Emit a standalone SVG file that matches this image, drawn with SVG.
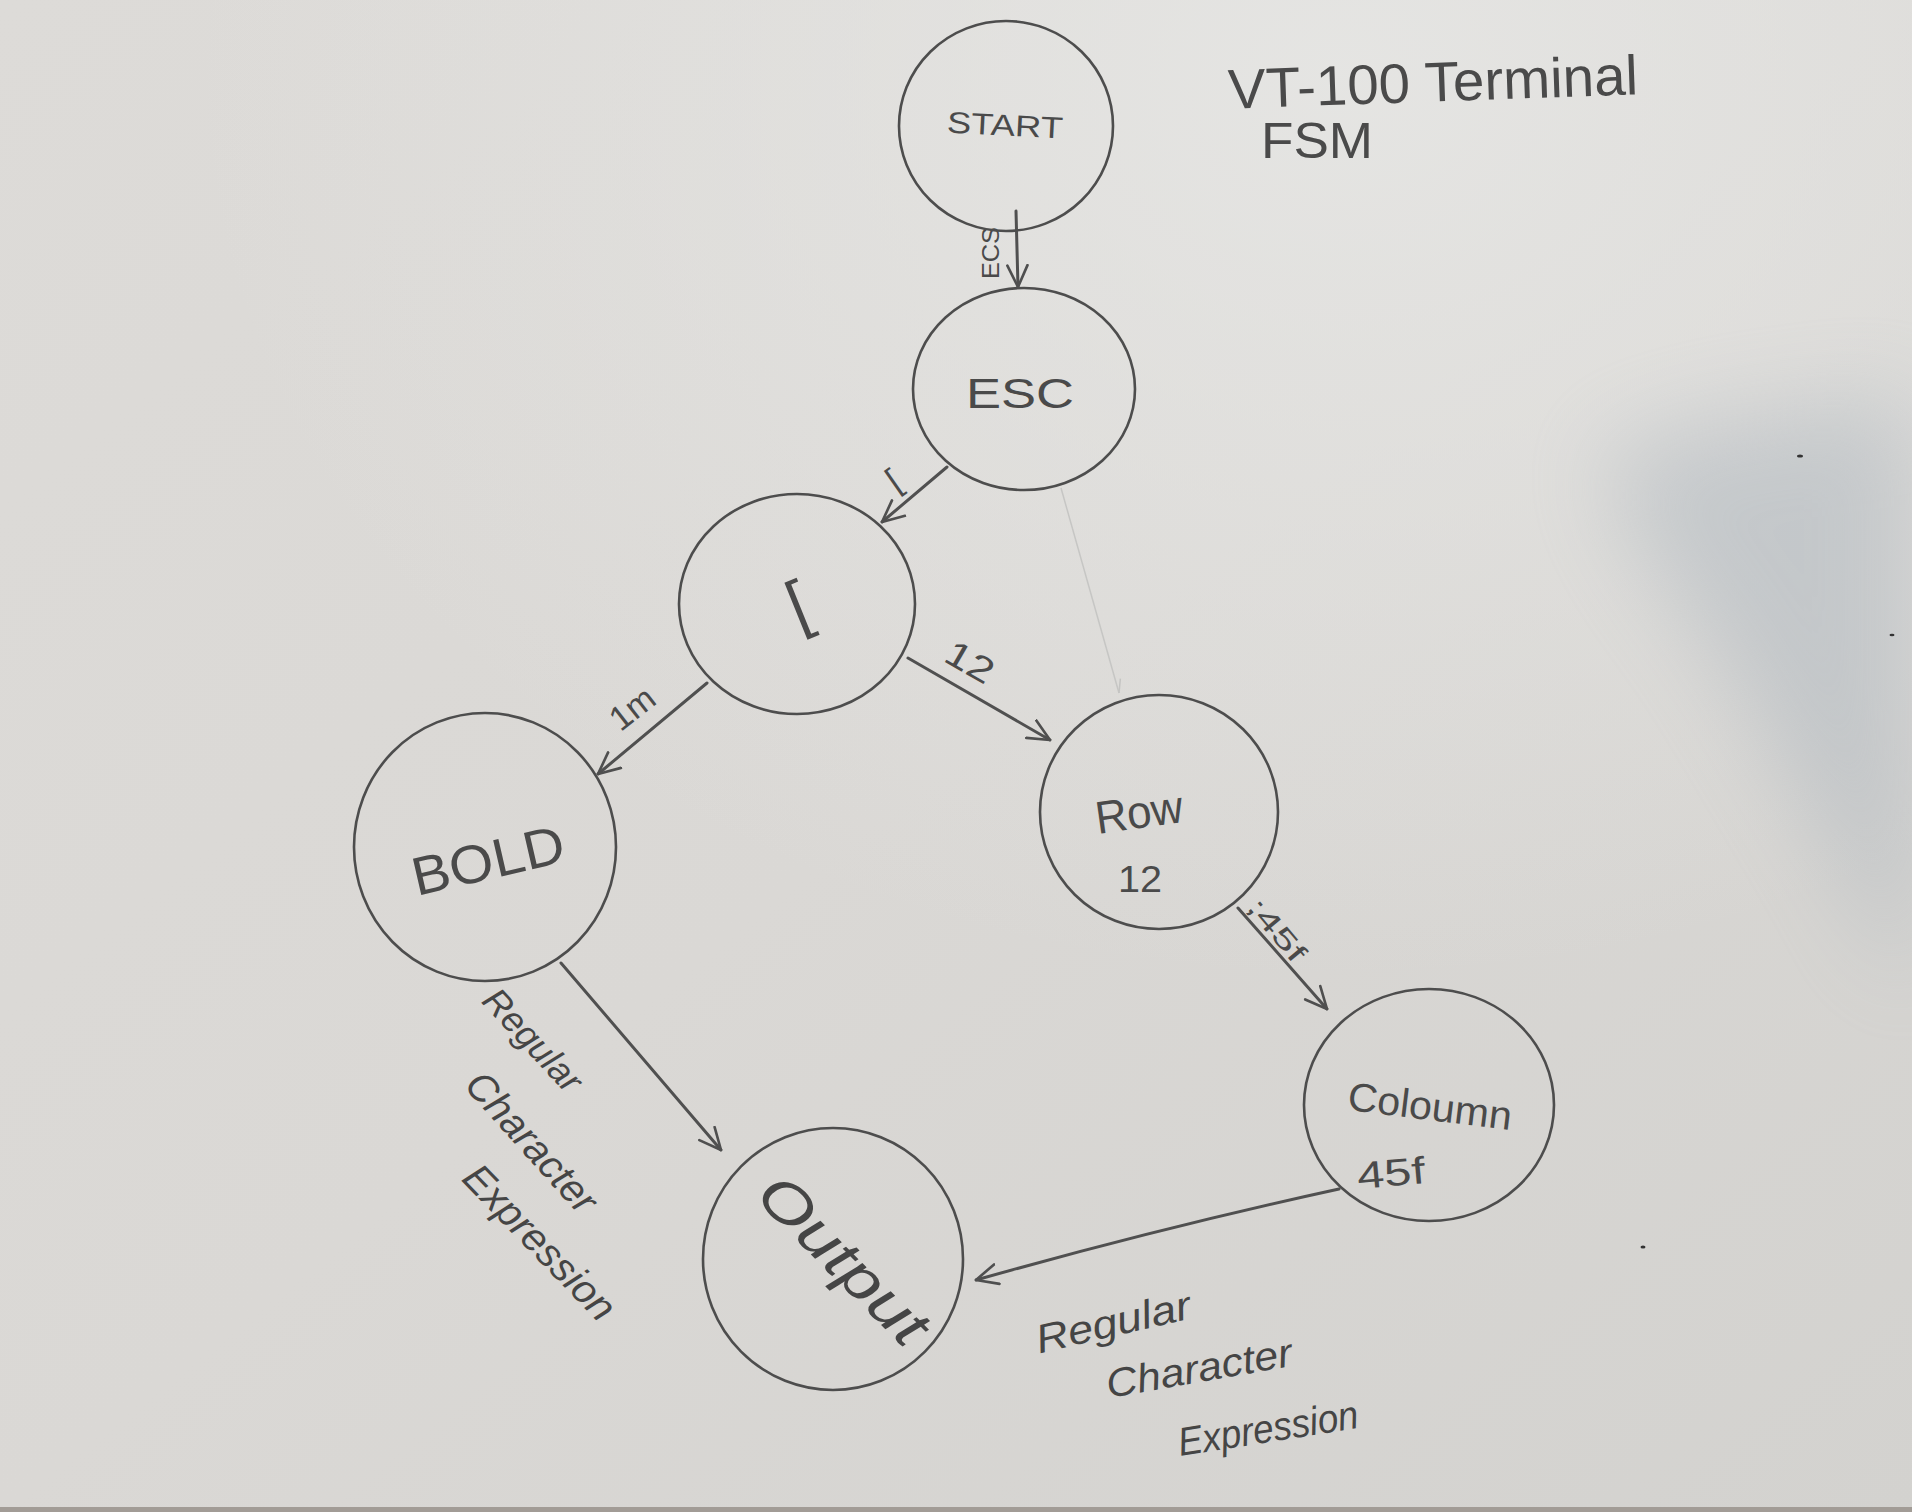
<svg xmlns="http://www.w3.org/2000/svg" width="1912" height="1512" viewBox="0 0 1912 1512">
<defs>
<linearGradient id="paper" x1="0" y1="0" x2="1" y2="1">
<stop offset="0" stop-color="#dddbd8"/>
<stop offset="0.5" stop-color="#dad8d5"/>
<stop offset="1" stop-color="#d3d2cf"/>
</linearGradient>
<radialGradient id="light" cx="0.7" cy="0.05" r="0.6">
<stop offset="0" stop-color="#e6e6e4" stop-opacity="0.9"/>
<stop offset="1" stop-color="#e6e6e4" stop-opacity="0"/>
</radialGradient>
<filter id="blur" x="-40%" y="-40%" width="180%" height="180%"><feGaussianBlur stdDeviation="45"/></filter>
<marker id="arrow" viewBox="0 0 10 10" refX="9.5" refY="5" markerWidth="8" markerHeight="8" orient="auto" markerUnits="strokeWidth">
<path d="M0.5,0.8 L9.5,5 L0.5,9.2" fill="none" stroke="#4f4f4f" stroke-width="1.1" stroke-linecap="round" stroke-linejoin="round"/>
</marker>
<marker id="arrowFaint" viewBox="0 0 10 10" refX="9.5" refY="5" markerWidth="10" markerHeight="10" orient="auto" markerUnits="strokeWidth">
<path d="M0.5,1.5 L9.5,5" fill="none" stroke="#c4c4c2" stroke-width="1"/>
</marker>
<style>
.node{fill:none;stroke:#4d4d4d;stroke-width:2.6}
.edge{fill:none;stroke:#505050;stroke-width:3;stroke-linecap:round;marker-end:url(#arrow)}
.faint{fill:none;stroke:#c6c6c4;stroke-width:1.5;marker-end:url(#arrowFaint)}
.t{font-family:"Liberation Sans","DejaVu Sans",sans-serif;fill:#4a4a4a;text-anchor:middle;dominant-baseline:central}
.s{font-family:"Liberation Sans","DejaVu Sans",sans-serif;font-style:italic;fill:#454545;text-anchor:middle;dominant-baseline:central}
</style>
</defs>

<rect x="0" y="0" width="1912" height="1512" fill="url(#paper)"/>
<rect x="0" y="0" width="1912" height="1512" fill="url(#light)"/>
<polygon points="1600,455 1720,420 1912,395 1912,1000 1850,880 1720,660 1640,550" fill="#a7b1ba" opacity="0.45" filter="url(#blur)"/>
<rect x="0" y="1507" width="1912" height="5" fill="#a29c96"/>
<ellipse cx="1800" cy="456" rx="3" ry="1.6" fill="#333"/>
<ellipse cx="1892" cy="635" rx="2.5" ry="1.3" fill="#333"/>
<ellipse cx="1643" cy="1247" rx="2.5" ry="1.5" fill="#333"/>

<g id="title">
<text class="t" x="1433" y="82" font-size="56" textLength="410" lengthAdjust="spacingAndGlyphs" transform="rotate(-2 1433 82)">VT-100 Terminal</text>
<text class="t" x="1317" y="141" font-size="50" textLength="112" lengthAdjust="spacingAndGlyphs">FSM</text>
</g>

<g id="connectors">
<line class="edge" x1="1016" y1="211" x2="1018" y2="287"/>
<line class="edge" x1="947" y1="467" x2="882" y2="522"/>
<line class="edge" x1="707" y1="683" x2="598" y2="774"/>
<line class="edge" x1="908" y1="658" x2="1050" y2="740"/>
<line class="edge" x1="1238" y1="908" x2="1327" y2="1009"/>
<line class="edge" x1="561" y1="963" x2="721" y2="1150"/>
<path class="edge" d="M1339,1189 Q1160,1228 976,1280"/>
<line class="faint" x1="1061" y1="488" x2="1119" y2="693"/>
<text class="t" x="990" y="253" font-size="24" textLength="52" lengthAdjust="spacingAndGlyphs" transform="rotate(-90 990 253)">ECS</text>
<text class="t" x="893" y="480" font-size="34" transform="rotate(-35 893 480)">[</text>
<text class="t" x="632" y="708" font-size="34" textLength="48" lengthAdjust="spacingAndGlyphs" transform="rotate(-38 632 708)">1m</text>
<text class="t" x="970" y="662" font-size="36" textLength="50" lengthAdjust="spacingAndGlyphs" transform="rotate(30 970 662)">12</text>
<text class="t" x="1277" y="930" font-size="28" textLength="74" lengthAdjust="spacingAndGlyphs" transform="rotate(50 1277 930)">;45f</text>
<g id="label-bold-output">
<text class="s" x="533" y="1040" font-size="36" textLength="127" lengthAdjust="spacingAndGlyphs" transform="rotate(47 533 1040)">Regular</text>
<text class="s" x="532" y="1142" font-size="40" textLength="175" lengthAdjust="spacingAndGlyphs" transform="rotate(48 532 1142)">Character</text>
<text class="s" x="540" y="1242" font-size="40" textLength="200" lengthAdjust="spacingAndGlyphs" transform="rotate(46 540 1242)">Expression</text>
</g>
<g id="label-col-output">
<text class="s" x="1113" y="1322" font-size="40" textLength="158" lengthAdjust="spacingAndGlyphs" transform="rotate(-13 1113 1322)">Regular</text>
<text class="s" x="1199" y="1368" font-size="40" textLength="188" lengthAdjust="spacingAndGlyphs" transform="rotate(-10 1199 1368)">Character</text>
<text class="s" x="1268" y="1428" font-size="40" textLength="182" lengthAdjust="spacingAndGlyphs" transform="rotate(-9 1268 1428)">Expression</text>
</g>
</g>

<g id="node-start">
<ellipse class="node" cx="1006" cy="126" rx="107" ry="105"/>
<text class="t" x="1005" y="125" font-size="30" textLength="116" lengthAdjust="spacingAndGlyphs" transform="rotate(3 1005 125)">START</text>
</g>
<g id="node-esc">
<ellipse class="node" cx="1024" cy="389" rx="111" ry="101"/>
<text class="t" x="1020" y="393" font-size="42" textLength="108" lengthAdjust="spacingAndGlyphs">ESC</text>
</g>
<g id="node-bracket">
<ellipse class="node" cx="797" cy="604" rx="118" ry="110"/>
<text class="t" x="798" y="604" font-size="66" transform="rotate(-22 798 604)">[</text>
</g>
<g id="node-bold">
<ellipse class="node" cx="485" cy="847" rx="131" ry="134"/>
<text class="t" x="488" y="860" font-size="54" textLength="155" lengthAdjust="spacingAndGlyphs" transform="rotate(-13 488 860)">BOLD</text>
</g>
<g id="node-row">
<ellipse class="node" cx="1159" cy="812" rx="119" ry="117"/>
<text class="t" x="1139" y="812" font-size="46" textLength="88" lengthAdjust="spacingAndGlyphs" transform="rotate(-8 1139 812)">Row</text>
<text class="t" x="1140" y="879" font-size="36" textLength="44" lengthAdjust="spacingAndGlyphs">12</text>
</g>
<g id="node-column">
<ellipse class="node" cx="1429" cy="1105" rx="125" ry="116"/>
<text class="t" x="1430" y="1106" font-size="40" textLength="165" lengthAdjust="spacingAndGlyphs" transform="rotate(7 1430 1106)">Coloumn</text>
<text class="t" x="1391" y="1173" font-size="38" textLength="68" lengthAdjust="spacingAndGlyphs" transform="rotate(-5 1391 1173)">45f</text>
</g>
<g id="node-output">
<ellipse class="node" cx="833" cy="1259" rx="130" ry="131"/>
<text class="s" x="844" y="1259" font-size="58" textLength="215" lengthAdjust="spacingAndGlyphs" transform="rotate(45 844 1259)">Output</text>
</g>
</svg>
